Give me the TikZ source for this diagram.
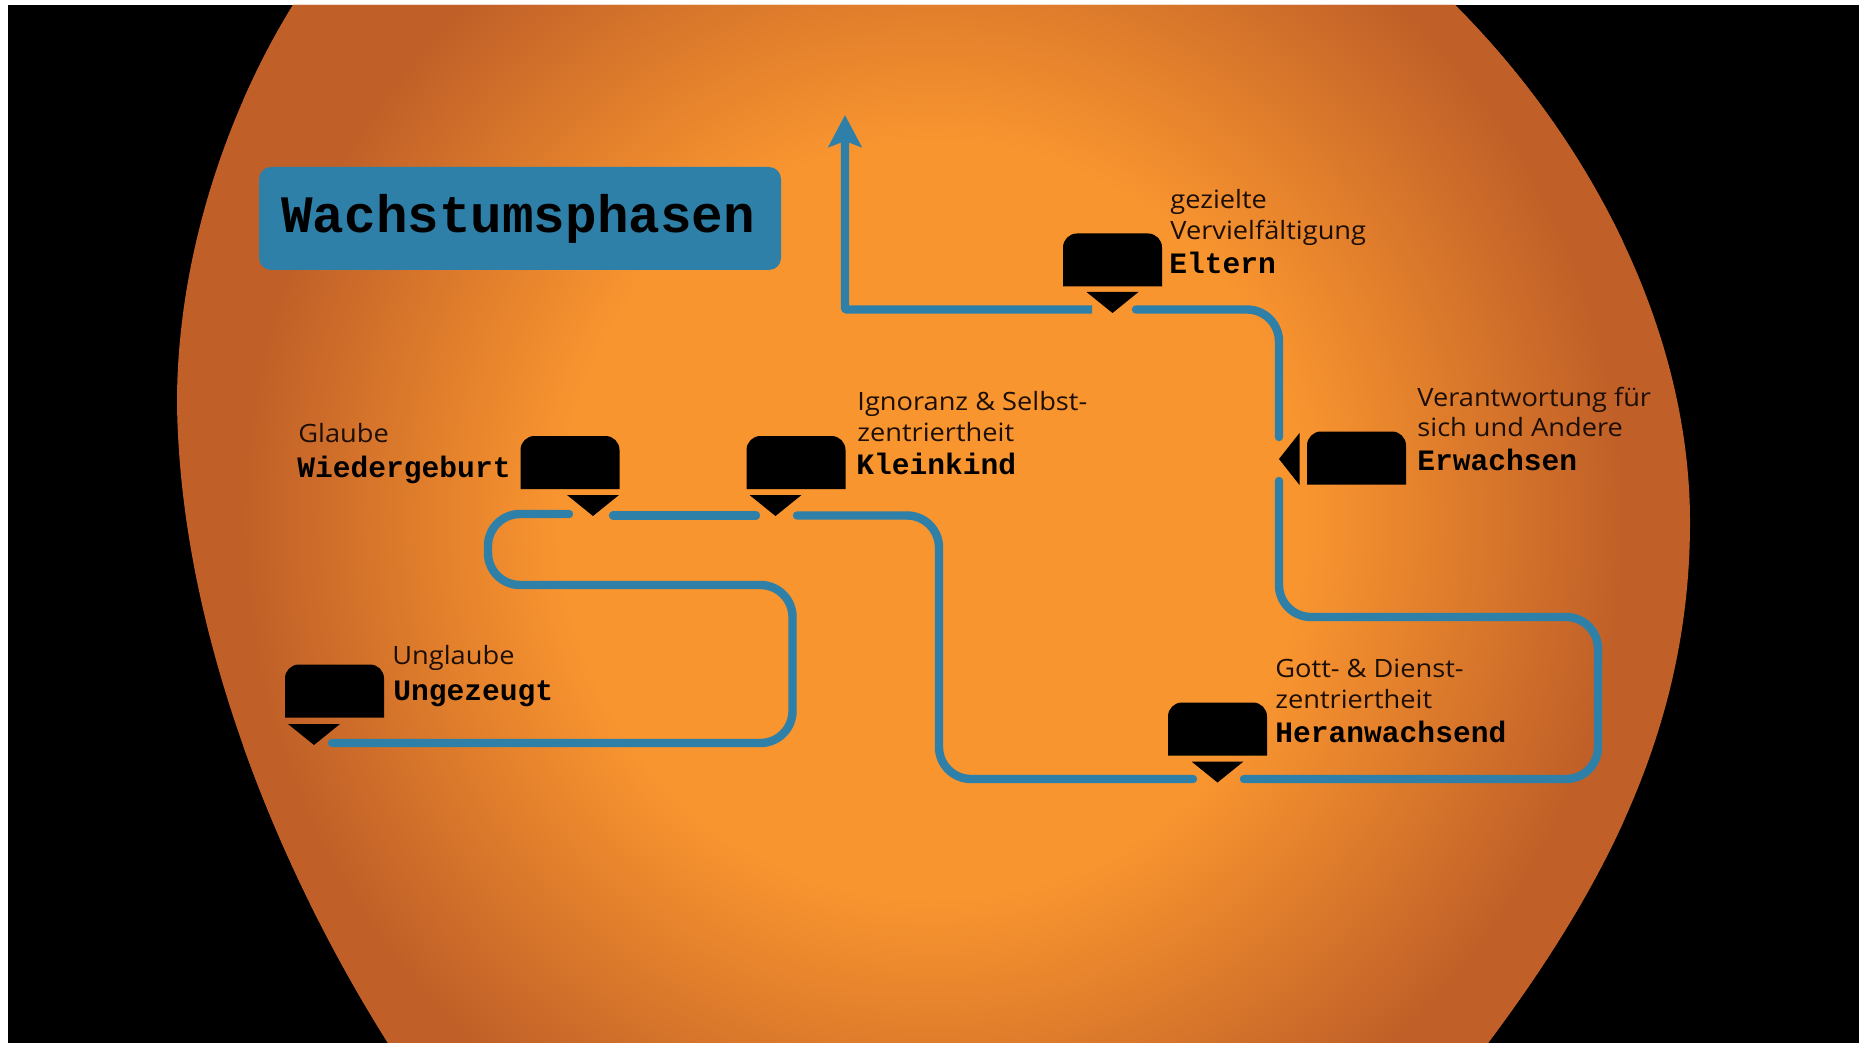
\documentclass[tikz,border=0pt]{standalone}
\usepackage{fontspec}
\setmainfont{Open Sans}[FakeStretch=1.08]
\newfontfamily\labelmono{Liberation Mono}[BoldFont={Liberation Mono Bold}]
\usetikzlibrary{arrows.meta}
\definecolor{trackblue}{HTML}{2E80A9}
\definecolor{glowin}{HTML}{F9952F}
\definecolor{glowout}{HTML}{C06028}
\pgfdeclareradialshading{sunglow}{\pgfpointorigin}{color(0bp)=(glowin); color(13.5bp)=(glowin); color(25bp)=(glowout); color(50bp)=(glowout)}
\tikzset{
  track/.style={draw=trackblue, line width=4.2pt, line cap=round, rounded corners=16pt},
  pinbody/.style={minimum width=49.5pt, minimum height=26.5pt, inner sep=0pt, outer sep=0pt},
  phase/.style={anchor=base west, inner sep=0pt, font=\fontsize{12.6}{15}\selectfont, text=black!85!glowout},
  stage/.style={anchor=base west, inner sep=0pt, font=\labelmono\bfseries\fontsize{14.8}{17}\selectfont},
}
\begin{document}
\begin{tikzpicture}[x=0.5pt, y=-0.5pt]
  \useasboundingbox (0,0) rectangle (1859,1043);
  \fill[black] (8,5) rectangle (1859,1043);

  % disc with its glow
  \begin{scope}
    \clip (293,5) .. controls (225,115) and (177,260) .. (177,403)
      .. controls (180,640) and (285,880) .. (388,1043)
      -- (1488,1043) .. controls (1610,880) and (1690,720) .. (1690,522)
      .. controls (1690,330) and (1590,140) .. (1455,5) -- cycle;
    \fill[glowout] (100,0) rectangle (1750,1043);
    \shade[shading=sunglow] (243,-180) rectangle (1623,1220);
  \end{scope}

  % title
  \node[fill=trackblue, rounded corners=6pt, minimum width=261pt, minimum height=51.5pt, inner sep=0pt] (title) at (520,218.5) {};
  \node[anchor=base west, inner sep=0pt, font=\labelmono\bfseries\fontsize{26.3}{30}\selectfont] (titletext) at (281,233) {Wachstumsphasen};

  % pins
  \node[pinbody] (ungezeugt) at (334.5,691) {};
  \node[pinbody] (wiedergeburt) at (570,462.5) {};
  \node[pinbody] (kleinkind) at (796,462.5) {};
  \node[pinbody] (heranwachsend) at (1217.5,729) {};
  \node[pinbody] (erwachsen) at (1356.5,458) {};
  \node[pinbody] (eltern) at (1112.5,260) {};
  \foreach \pin in {ungezeugt,wiedergeburt,kleinkind,heranwachsend,erwachsen,eltern}
    \fill[rounded corners=7pt] (\pin.south west) -- (\pin.north west) -- (\pin.north east) [sharp corners] -- (\pin.south east) -- cycle;

  \foreach \x/\y in {314/724,593/495,775.5/495,1217.5/761.5,1112.5/292}
    \fill (\x-26,\y) -- (\x+26,\y) -- (\x,\y+21) -- cycle;
  \fill (1299.5,433) -- (1299.5,485) -- (1279,459) -- cycle;

  % track between the pins
  \coordinate (ungezeugt-out) at (332,743);
  \coordinate (wiedergeburt-in) at (569,514);
  \coordinate (wiedergeburt-out) at (613,515.5);
  \coordinate (kleinkind-in) at (756,515.5);
  \coordinate (kleinkind-out) at (797,515.5);
  \coordinate (heranwachsend-in) at (1193,779);
  \coordinate (heranwachsend-out) at (1244,779);
  \coordinate (erwachsen-in) at (1279,481);
  \coordinate (erwachsen-out) at (1279,437);
  \coordinate (eltern-in) at (1136,309.5);
  \coordinate (eltern-out) at (1092,309.5);
  \coordinate (wachstum) at (845,115);

  \draw[track] (ungezeugt-out) -- (792.5,743) -- (792.5,585) -- (488,585) -- (488,514) -- (wiedergeburt-in);
  \draw[track] (wiedergeburt-out) -- (kleinkind-in);
  \draw[track] (kleinkind-out) -- (939,515.5) -- (939,779) -- (heranwachsend-in);
  \draw[track] (heranwachsend-out) -- (1598,779) -- (1598,617) -- (1279,617) -- (erwachsen-in);
  \draw[track] (erwachsen-out) -- (1279,309.5) -- (eltern-in);
  \draw[track, rounded corners=1pt, line cap=butt, -{Stealth[length=16pt, width=16.5pt, inset=3pt]}] (eltern-out) -- (845,309.5) -- (wachstum);

  % labels
  \node[phase] (glaube) at (298,442) {Glaube};
  \node[stage] (wiedergeburt-text) at (297,477) {Wiedergeburt};
  \node[phase] (unglaube) at (392,664) {Unglaube};
  \node[stage] (ungezeugt-text) at (393,700) {Ungezeugt};
  \node[phase] (ignoranz) at (857,410) {Ignoranz \& Selbst-};
  \node[phase] (ignoranz2) at (857,441) {zentriertheit};
  \node[stage] (kleinkind-text) at (856,474) {Kleinkind};
  \node[phase] (gezielte) at (1170,209) {gezielte};
  \node[phase] (gezielte2) at (1170,240) {Vervielfältigung};
  \node[stage] (eltern-text) at (1169,274) {Eltern};
  \node[phase] (verantwortung) at (1417,407) {Verantwortung für};
  \node[phase] (verantwortung2) at (1417,437) {sich und Andere};
  \node[stage] (erwachsen-text) at (1417,470) {Erwachsen};
  \node[phase] (gott) at (1275,677) {Gott- \& Dienst-};
  \node[phase] (gott2) at (1275,708) {zentriertheit};
  \node[stage] (heranwachsend-text) at (1275,742) {Heranwachsend};
\end{tikzpicture}
\end{document}
